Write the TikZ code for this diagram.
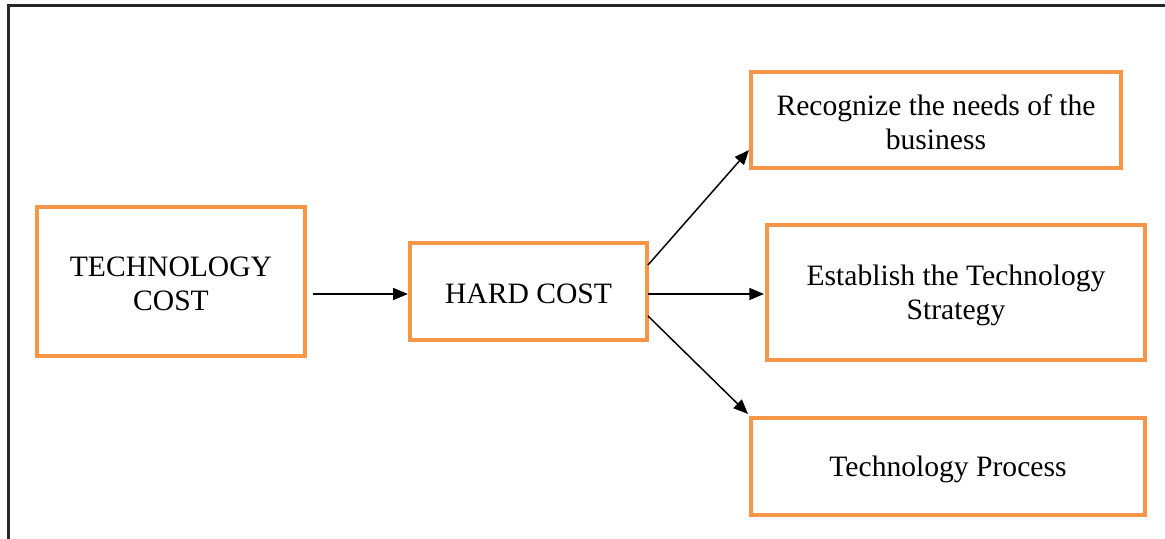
\documentclass[tikz,border=0pt]{standalone}
\usepackage{fontspec}
\setmainfont{Liberation Serif}
\usetikzlibrary{arrows.meta}
\definecolor{boxorange}{HTML}{F79646}
\tikzset{
  box/.style={draw=boxorange, line width=3.2pt, inner sep=0pt},
  lbl/.style={align=center, inner sep=0pt, yshift=-2pt,
    font=\fontsize{22.2}{25.5}\selectfont},
  arr/.style={line width=1.1pt, -{Triangle[length=11pt,width=9pt]}},
  frame/.style={line width=1.6pt, black!85}
}
\begin{document}
\begin{tikzpicture}[x=0.75pt,y=-0.75pt]
\useasboundingbox (0,0) rectangle (1165,539);
\coordinate (fa) at (8.5,539);
\coordinate (fb) at (8.5,5.5);
\coordinate (fc) at (1165,5.5);
\draw[frame] (fa) -- (fb) -- (fc);
\node[box, minimum width={268*0.75pt}, minimum height={149*0.75pt}] (tech) at (171,281.5) {};
\node[box, minimum width={237*0.75pt}, minimum height={97*0.75pt}] (hard) at (528.5,291.5) {};
\node[box, minimum width={370*0.75pt}, minimum height={96*0.75pt}] (rec) at (936,120) {};
\node[box, minimum width={378*0.75pt}, minimum height={135*0.75pt}] (est) at (956,292.5) {};
\node[box, minimum width={394*0.75pt}, minimum height={97*0.75pt}] (proc) at (948,466.5) {};
\node[lbl] (techt) at (tech.center) {TECHNOLOGY\\COST};
\node[lbl] (hardt) at (hard.center) {HARD COST};
\node[lbl] (rect) at (rec.center) {Recognize the needs of the\\business};
\node[lbl] (estt) at (est.center) {Establish the Technology\\Strategy};
\node[lbl] (proct) at (proc.center) {Technology Process};
\coordinate (s0) at (313,294);
\coordinate (s1) at (648,265);
\coordinate (s2) at (648,294);
\coordinate (s3) at (648,316);
\coordinate (e1) at (749,150);
\coordinate (e2) at (764,294);
\coordinate (e3) at (748,414);
\draw[arr] (s0) -- (s0 -| hard.west);
\draw[arr] (s1) -- (e1);
\draw[arr] (s2) -- (e2);
\draw[arr] (s3) -- (e3);
\end{tikzpicture}
\end{document}
